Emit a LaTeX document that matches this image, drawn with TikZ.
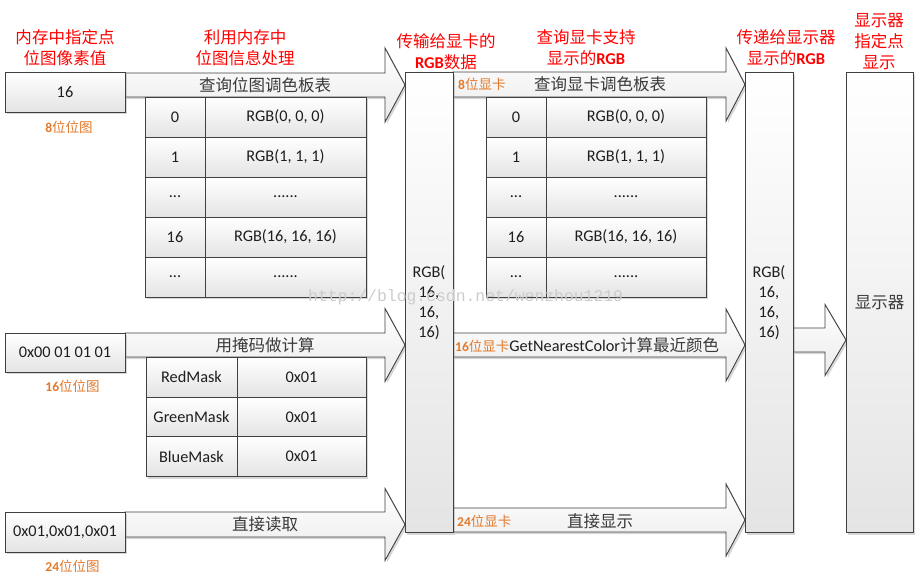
\documentclass[tikz,border=0pt]{standalone}
\usepackage{fontspec}
\setmainfont{Carlito}
\newfontfamily\cjk{Noto Sans CJK SC}
\newfontfamily\wmfont{Liberation Mono}
\usetikzlibrary{shadows}
\definecolor{bordergray}{HTML}{404040}
\definecolor{boxbot}{HTML}{E4E4E4}
\definecolor{arrbot}{HTML}{EBEBEB}
\definecolor{txt}{HTML}{1E1E1E}
\definecolor{lbltxt}{HTML}{3A3A3A}
\definecolor{lblor}{HTML}{E3792B}
\definecolor{hdrred}{HTML}{FF0000}
\newcommand\tdots{...}
\newcommand\sdots{......}
\newcommand\zhm[1]{{\cjk\mdseries #1}}
\newcommand\rgbb{{\rmfamily\bfseries RGB}}
\newcommand\barrow[6]{%
  \draw[arrowst] (#1,#4-#5) -- (#2,#4-#5) -- (#2,#4-#6) -- (#3,#4) -- (#2,#4+#6) -- (#2,#4+#5) -- (#1,#4+#5) -- cycle;}
\begin{document}
\begin{tikzpicture}[x=1pt,y=-1pt,
  shd/.style={drop shadow={shadow xshift=2pt, shadow yshift=-2pt, opacity=0.22, fill=black!70}},
  box/.style={draw=bordergray, line width=0.9pt, top color=white, bottom color=boxbot, inner sep=0pt, shd, font=\fontsize{16.3}{20}\selectfont, text=txt, align=center},
  arrowst/.style={draw=bordergray, line width=0.9pt, top color=white, bottom color=arrbot, line join=miter, shd},
  hdr/.style={text=hdrred, align=center, font=\cjk\fontsize{16.5}{21}\selectfont, inner sep=0pt},
  zh/.style={font=\cjk\fontsize{16.5}{20}\selectfont, text=lbltxt, inner sep=0pt},
  lbl/.style={font=\bfseries\fontsize{13.5}{16}\selectfont, text=lblor, inner sep=0pt},
  ta/.style={box, minimum width=60pt, minimum height=40pt},
  tb/.style={box, minimum width=161pt, minimum height=40pt},
  tc/.style={box, minimum width=160pt, minimum height=40pt},
  ma/.style={box, minimum width=91pt, minimum height=40pt},
  mb/.style={box, minimum width=129pt, minimum height=40pt},
  colbox/.style={box, minimum width=48pt, minimum height=460pt}
]
\useasboundingbox (0,0) rectangle (920,574);
\fill[white] (0,0) rectangle (920,574);

% block arrows
\barrow{125}{385}{405}{85}{12}{37}
\barrow{125}{385}{405}{345}{12}{36.5}
\barrow{125}{385}{405}{524.5}{12.5}{36}
\barrow{453}{726}{745}{84.5}{12.5}{36.5}
\barrow{453}{726}{745}{345}{12}{36}
\barrow{453}{726}{745}{520}{12}{36}
\barrow{793}{825}{846}{340}{12}{35.5}

% arrow labels
\node[zh] (l1) at (265,85) {查询位图调色板表};
\node[zh] (l2) at (265,345) {用掩码做计算};
\node[zh] (l3) at (265,524.5) {直接读取};
\node[lbl, anchor=west] (l4a) at (458,84.5) {8\zhm{位显卡}};
\node[zh] (l4) at (600,84.5) {查询显卡调色板表};
\node[anchor=west, inner sep=0pt, font=\fontsize{16.3}{20}\selectfont, text=txt] (l5) at (455,345)
  {{\color{lblor}\bfseries\fontsize{13.5}{16}\selectfont 16\zhm{位显卡}}GetNearestColor{\cjk\fontsize{16.5}{20}\selectfont\color{lbltxt}计算最近颜色}};
\node[lbl, anchor=west] (l6a) at (457,521) {24\zhm{位显卡}};
\node[zh] (l6) at (600,521) {直接显示};

% source boxes
\node[box, minimum width=120pt, minimum height=40pt] (px8) at (65,92) {16};
\node[box, minimum width=120pt, minimum height=39pt] (px16) at (65,352.5) {0x00 01 01 01};
\node[box, minimum width=120pt, minimum height=40pt] (px24) at (65,532) {0x01,0x01,0x01};
\node[lbl] (b8) at (69,127) {8\zhm{位位图}};
\node[lbl] (b16) at (72.5,386) {16\zhm{位位图}};
\node[lbl] (b24) at (72.5,566) {24\zhm{位位图}};

% tables
\foreach \y/\a/\b [count=\i] in {117/0/{RGB(0, 0, 0)}, 157/1/{RGB(1, 1, 1)}, 197/\tdots/\sdots, 237/16/{RGB(16, 16, 16)}, 277/\tdots/\sdots}{
  \node[ta] (ta\i) at (175,\y) {\a};
  \node[tb] (tb\i) at (285.5,\y) {\b};
  \node[ta] (tc\i) at (516,\y) {\a};
  \node[tc] (td\i) at (626,\y) {\b};
}
\foreach \y/\a [count=\i] in {377/RedMask, 417/GreenMask, 456.5/BlueMask}{
  \node[ma] (ma\i) at (191.5,\y) {\a};
  \node[mb] (mb\i) at (301.5,\y) {0x01};
}

% columns
\node[colbox] (rgb1) at (429,302.5) {RGB(\\16,\\16,\\16)};
\node[colbox] (rgb2) at (769,302.5) {RGB(\\16,\\16,\\16)};
\node[box, minimum width=67pt, minimum height=460pt, font=\cjk\fontsize{16.5}{20}\selectfont, text=lbltxt] (disp) at (879.5,302.5) {显示器};

% headers
\node[hdr] (h1) at (65,47.5) {内存中指定点\\位图像素值};
\node[hdr] (h2) at (245,47.5) {利用内存中\\位图信息处理};
\node[hdr] (h3) at (446,51.5) {传输给显卡的\\\rgbb 数据};
\node[hdr] (h4) at (586,48) {查询显卡支持\\显示的\rgbb};
\node[hdr] (h5) at (786,48) {传递给显示器\\显示的\rgbb};
\node[hdr] (h6) at (879,41.5) {显示器\\指定点\\显示};

% watermark
\node[font=\wmfont\fontsize{16.4}{18}\selectfont, text=gray!40, inner sep=0pt, anchor=west] (wm) at (308,297) {http://blog.csdn.net/wenzhou1219};
\end{tikzpicture}
\end{document}
